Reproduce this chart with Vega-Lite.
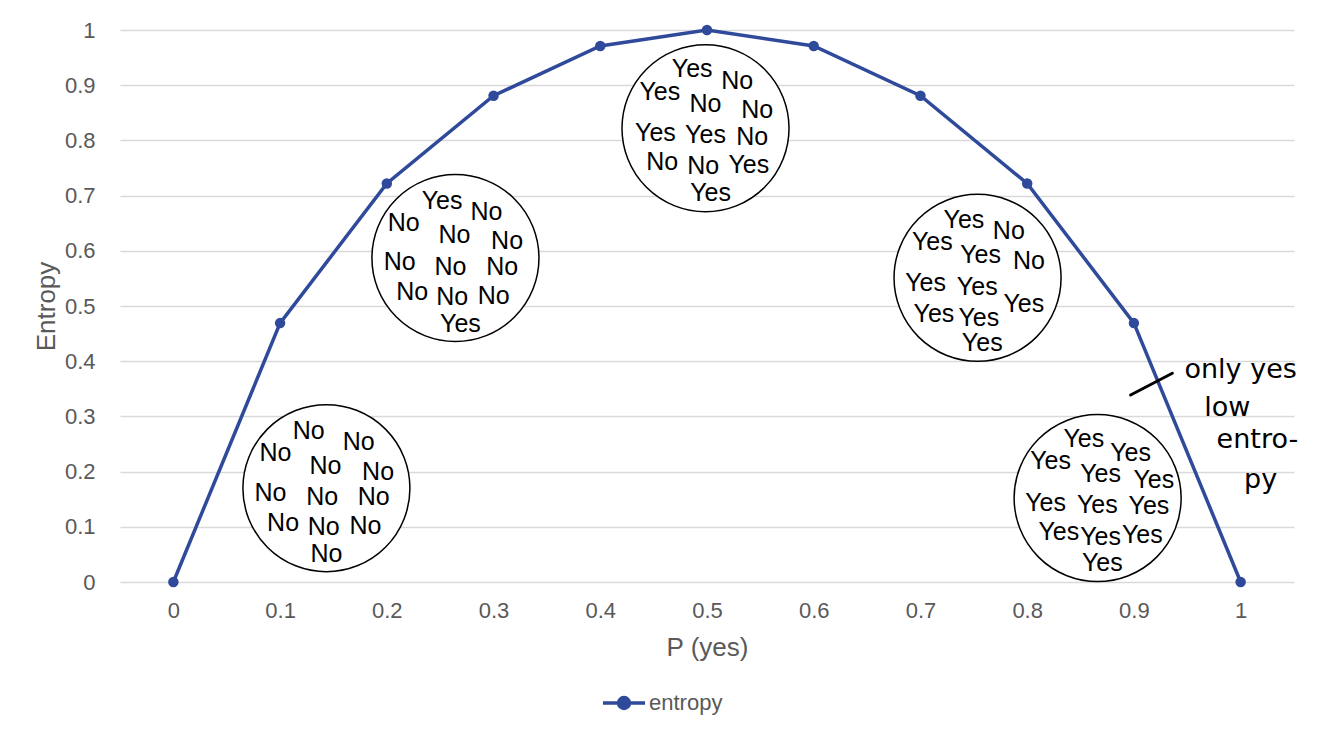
{
  "$schema": "https://vega.github.io/schema/vega-lite/v6.json",
  "autosize": "none",
  "width": 1174,
  "height": 552,
  "padding": {"left": 120, "top": 30, "right": 40, "bottom": 148},
  "config": {
    "view": {"stroke": null},
    "font": "Liberation Sans",
    "axis": {"labelFont": "Liberation Sans", "titleFont": "Liberation Sans", "labelColor": "#595959", "titleColor": "#595959", "titleFontWeight": "normal"},
    "legend": {"labelFont": "Liberation Sans", "labelColor": "#595959"}
  },
  "datasets": {
    "curve": [
      {"p": 0, "entropy": 0, "series": "entropy"},
      {"p": 0.1, "entropy": 0.469, "series": "entropy"},
      {"p": 0.2, "entropy": 0.722, "series": "entropy"},
      {"p": 0.3, "entropy": 0.881, "series": "entropy"},
      {"p": 0.4, "entropy": 0.971, "series": "entropy"},
      {"p": 0.5, "entropy": 1.0, "series": "entropy"},
      {"p": 0.6, "entropy": 0.971, "series": "entropy"},
      {"p": 0.7, "entropy": 0.881, "series": "entropy"},
      {"p": 0.8, "entropy": 0.722, "series": "entropy"},
      {"p": 0.9, "entropy": 0.469, "series": "entropy"},
      {"p": 1, "entropy": 0, "series": "entropy"}
    ],
    "circles": [
      {"cx": 0.1434, "cy": 0.170},
      {"cx": 0.2643, "cy": 0.587},
      {"cx": 0.4986, "cy": 0.822},
      {"cx": 0.7535, "cy": 0.551},
      {"cx": 0.8660, "cy": 0.152}
    ],
    "words": [
      {"wx": 0.1268, "wy": 0.2741, "w": "No"},
      {"wx": 0.0956, "wy": 0.2342, "w": "No"},
      {"wx": 0.1737, "wy": 0.2542, "w": "No"},
      {"wx": 0.1425, "wy": 0.2101, "w": "No"},
      {"wx": 0.1918, "wy": 0.1998, "w": "No"},
      {"wx": 0.0909, "wy": 0.1618, "w": "No"},
      {"wx": 0.1394, "wy": 0.1545, "w": "No"},
      {"wx": 0.1877, "wy": 0.1534, "w": "No"},
      {"wx": 0.1028, "wy": 0.1074, "w": "No"},
      {"wx": 0.1409, "wy": 0.0991, "w": "No"},
      {"wx": 0.1799, "wy": 0.1014, "w": "No"},
      {"wx": 0.1434, "wy": 0.0507, "w": "No"},

      {"wx": 0.2518, "wy": 0.6908, "w": "Yes"},
      {"wx": 0.2933, "wy": 0.6708, "w": "No"},
      {"wx": 0.2158, "wy": 0.6509, "w": "No"},
      {"wx": 0.2634, "wy": 0.6286, "w": "No"},
      {"wx": 0.3127, "wy": 0.6183, "w": "No"},
      {"wx": 0.2121, "wy": 0.5803, "w": "No"},
      {"wx": 0.2596, "wy": 0.5712, "w": "No"},
      {"wx": 0.3081, "wy": 0.5701, "w": "No"},
      {"wx": 0.2237, "wy": 0.5259, "w": "No"},
      {"wx": 0.2612, "wy": 0.5168, "w": "No"},
      {"wx": 0.3002, "wy": 0.5181, "w": "No"},
      {"wx": 0.2690, "wy": 0.4674, "w": "Yes"},

      {"wx": 0.4861, "wy": 0.9288, "w": "Yes"},
      {"wx": 0.5283, "wy": 0.9082, "w": "No"},
      {"wx": 0.4558, "wy": 0.8882, "w": "Yes"},
      {"wx": 0.4986, "wy": 0.8659, "w": "No"},
      {"wx": 0.5470, "wy": 0.8551, "w": "No"},
      {"wx": 0.4517, "wy": 0.8139, "w": "Yes"},
      {"wx": 0.4986, "wy": 0.8098, "w": "Yes"},
      {"wx": 0.5424, "wy": 0.8067, "w": "No"},
      {"wx": 0.4580, "wy": 0.7614, "w": "No"},
      {"wx": 0.4964, "wy": 0.7536, "w": "No"},
      {"wx": 0.5392, "wy": 0.7554, "w": "Yes"},
      {"wx": 0.5033, "wy": 0.7042, "w": "Yes"},

      {"wx": 0.7407, "wy": 0.6558, "w": "Yes"},
      {"wx": 0.7828, "wy": 0.6364, "w": "No"},
      {"wx": 0.7111, "wy": 0.6165, "w": "Yes"},
      {"wx": 0.7563, "wy": 0.5924, "w": "Yes"},
      {"wx": 0.8016, "wy": 0.5821, "w": "No"},
      {"wx": 0.7048, "wy": 0.5422, "w": "Yes"},
      {"wx": 0.7532, "wy": 0.5350, "w": "Yes"},
      {"wx": 0.7969, "wy": 0.5036, "w": "Yes"},
      {"wx": 0.7126, "wy": 0.4855, "w": "Yes"},
      {"wx": 0.7547, "wy": 0.4777, "w": "Yes"},
      {"wx": 0.7579, "wy": 0.4324, "w": "Yes"},

      {"wx": 0.8531, "wy": 0.2585, "w": "Yes"},
      {"wx": 0.8969, "wy": 0.2332, "w": "Yes"},
      {"wx": 0.8219, "wy": 0.2197, "w": "Yes"},
      {"wx": 0.8688, "wy": 0.1957, "w": "Yes"},
      {"wx": 0.9187, "wy": 0.1848, "w": "Yes"},
      {"wx": 0.8172, "wy": 0.1437, "w": "Yes"},
      {"wx": 0.8657, "wy": 0.1395, "w": "Yes"},
      {"wx": 0.9141, "wy": 0.1377, "w": "Yes"},
      {"wx": 0.8297, "wy": 0.0911, "w": "Yes"},
      {"wx": 0.8688, "wy": 0.0810, "w": "Yes"},
      {"wx": 0.9079, "wy": 0.0851, "w": "Yes"},
      {"wx": 0.8704, "wy": 0.0339, "w": "Yes"}
    ],
    "note": [
      {"nx": 1.0, "ny": 0.3841, "t": "only yes"},
      {"nx": 0.9875, "ny": 0.3147, "t": "low"},
      {"nx": 1.0157, "ny": 0.2572, "t": "entro-"},
      {"nx": 1.0187, "ny": 0.1848, "t": "py"}
    ],
    "stroke": [
      {"ax": 0.8969, "ay": 0.3388, "bx": 0.9360, "by": 0.3781}
    ]
  },
  "layer": [
    {
      "data": {"name": "curve"},
      "mark": {"type": "line", "strokeWidth": 3.5, "color": "#2F4A9A"},
      "encoding": {
        "x": {"field": "p", "type": "quantitative",
              "scale": {"domain": [-0.05, 1.05], "nice": false, "zero": false},
              "axis": {"values": [0, 0.1, 0.2, 0.3, 0.4, 0.5, 0.6, 0.7, 0.8, 0.9, 1], "format": "~g", "grid": false, "domain": false, "ticks": false, "labelFontSize": 22, "labelPadding": 18, "title": "P (yes)", "titleFontSize": 26, "titlePadding": 13}},
        "y": {"field": "entropy", "type": "quantitative",
              "scale": {"domain": [0, 1], "nice": false},
              "axis": {"values": [0, 0.1, 0.2, 0.3, 0.4, 0.5, 0.6, 0.7, 0.8, 0.9, 1], "format": "~g", "grid": true, "gridColor": "#d9d9d9", "gridWidth": 1.5, "domain": false, "ticks": false, "labelFontSize": 22, "labelPadding": 25, "title": "Entropy", "titleFontSize": 26, "titlePadding": 5}},
        "color": {"field": "series", "type": "nominal",
                  "scale": {"range": ["#2F4A9A"]},
                  "legend": {"title": null, "orient": "none", "legendX": 481, "legendY": 650, "labelFontSize": 22, "symbolType": "M-1,0L1,0M0.26,0A0.26,0.26,0,1,1,-0.26,0A0.26,0.26,0,1,1,0.26,0Z", "symbolSize": 1764, "symbolStrokeWidth": 3.5, "symbolFillColor": "#2F4A9A", "symbolStrokeColor": "#2F4A9A", "labelOffset": 2}}
      }
    },
    {
      "data": {"name": "curve"},
      "mark": {"type": "point", "filled": true, "size": 110, "color": "#2F4A9A", "opacity": 1},
      "encoding": {
        "x": {"field": "p", "type": "quantitative"},
        "y": {"field": "entropy", "type": "quantitative"}
      }
    },
    {
      "data": {"name": "circles"},
      "mark": {"type": "point", "shape": "circle", "size": 27900, "fill": "white", "fillOpacity": 1, "stroke": "black", "strokeWidth": 1.5, "opacity": 1},
      "encoding": {
        "x": {"field": "cx", "type": "quantitative"},
        "y": {"field": "cy", "type": "quantitative"}
      }
    },
    {
      "data": {"name": "words"},
      "mark": {"type": "text", "fontSize": 25, "color": "black", "align": "center", "baseline": "middle", "font": "Liberation Sans"},
      "encoding": {
        "x": {"field": "wx", "type": "quantitative"},
        "y": {"field": "wy", "type": "quantitative"},
        "text": {"field": "w"}
      }
    },
    {
      "data": {"name": "stroke"},
      "mark": {"type": "rule", "strokeWidth": 3, "color": "black", "strokeCap": "round"},
      "encoding": {
        "x": {"field": "ax", "type": "quantitative"},
        "y": {"field": "ay", "type": "quantitative"},
        "x2": {"field": "bx"},
        "y2": {"field": "by"}
      }
    },
    {
      "data": {"name": "note"},
      "mark": {"type": "text", "fontSize": 27, "color": "black", "align": "center", "baseline": "middle", "font": "DejaVu Sans"},
      "encoding": {
        "x": {"field": "nx", "type": "quantitative"},
        "y": {"field": "ny", "type": "quantitative"},
        "text": {"field": "t"}
      }
    }
  ]
}
